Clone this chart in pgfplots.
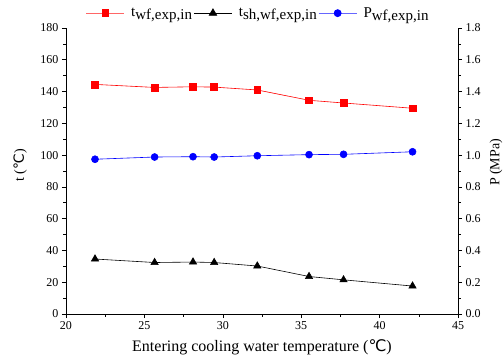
\documentclass[border=0pt]{standalone}
\usepackage{pgfplots}
\pgfplotsset{compat=1.18}
\usepackage{fontspec}
\setmainfont{Liberation Serif}
\newfontfamily\dejavu{DejaVu Sans}
\newcommand{\degC}{{\dejavu\char"2103}}
\newcommand{\sub}[1]{\raisebox{-0.4ex}{#1}}
\begin{document}
\begin{tikzpicture}
\pgfplotsset{
  every axis/.append style={
    scale only axis, width=392bp, height=286bp,
    xmin=20, xmax=45, tick align=outside,
    tick label style={font=\fontsize{12bp}{14bp}\selectfont},
    /pgf/number format/assume math mode=true,
    major tick length=4bp, minor tick length=2.5bp,
    every tick/.style={black, line width=0.6pt},
    axis line style={line width=0.7pt},
  }
}
\begin{axis}[
  axis x line*=bottom, axis y line*=left,
  ymin=0, ymax=180, ytick={0,20,...,180},
  minor y tick num=1, minor x tick num=1,
  xtick={20,25,...,45},
  xlabel={Entering cooling water temperature (\degC)},
  ylabel={t (\degC)},
  xlabel style={font=\fontsize{16bp}{18bp}\selectfont, at={(axis description cs:0.5,0)}, anchor=center, yshift=-33bp},
  ylabel style={font=\fontsize{14bp}{16bp}\selectfont, at={(axis description cs:-0.117,0.52)}, anchor=center},
]
\addplot[red, line width=0.6pt, mark=square*, mark size=3.4bp, mark options={fill=red}] coordinates {
(21.85,144.5) (25.65,142.6) (28.1,143.0) (29.45,142.8) (32.2,141.0) (35.5,134.5) (37.7,132.8) (42.1,129.5)};
\addplot[black, line width=0.6pt, mark=triangle*, mark size=4.2bp, mark options={fill=black}] coordinates {
(21.85,34.6) (25.65,32.4) (28.1,32.7) (29.45,32.4) (32.2,30.2) (35.5,23.6) (37.7,21.5) (42.1,17.6)};
\coordinate (bl) at (rel axis cs:0,0);
\coordinate (tr) at (rel axis cs:1,1);
\end{axis}
\begin{axis}[
  axis y line*=right, axis x line=none,
  ymin=0, ymax=1.8, ytick={0,0.2,...,1.8},
  yticklabel style={/pgf/number format/.cd, fixed, fixed zerofill, precision=1},
  minor y tick num=1,
  ylabel={P (MPa)},
  ylabel style={font=\fontsize{14bp}{16bp}\selectfont, at={(axis description cs:1.097,0.53)}, anchor=center},
  legend style={draw=none, fill=none, at={(axis description cs:0.5,1.0)}, anchor=south,
    yshift=5bp, xshift=-4bp,
    legend columns=3, font=\fontsize{15bp}{17bp}\selectfont,
    /tikz/every even column/.append style={column sep=0bp},
    /tikz/every odd column/.append style={column sep=5bp},
    nodes={inner xsep=1.5bp}},
  legend cell align=left,
  legend image code/.code={\draw[mark repeat=2,mark phase=2,#1] plot coordinates {(0bp,0bp) (19bp,0bp) (38bp,0bp)};},
]
\addlegendimage{red!60, line width=0.8pt, mark=square*, mark size=3.4bp, mark options={fill=red, draw=red}}
\addlegendentry{t\sub{wf,exp,in}}
\addlegendimage{black, line width=0.8pt, mark=triangle*, mark size=4.2bp, mark options={fill=black}}
\addlegendentry{t\sub{sh,wf,exp,in}}
\addplot[blue, line width=0.6pt, mark=*, mark size=3.5bp, mark options={fill=blue}, forget plot] coordinates {
(21.85,0.974) (25.65,0.988) (28.1,0.990) (29.45,0.988) (32.2,0.996) (35.5,1.003) (37.7,1.005) (42.1,1.021)};
\addlegendimage{blue!60, line width=0.8pt, mark=*, mark size=3.5bp, mark options={fill=blue, draw=blue}}
\addlegendentry{P\sub{wf,exp,in}}
\end{axis}
\pgfresetboundingbox
\path ([shift={(-66bp,-46bp)}]bl) rectangle ([shift={(45bp,28bp)}]tr);
\end{tikzpicture}
\end{document}
